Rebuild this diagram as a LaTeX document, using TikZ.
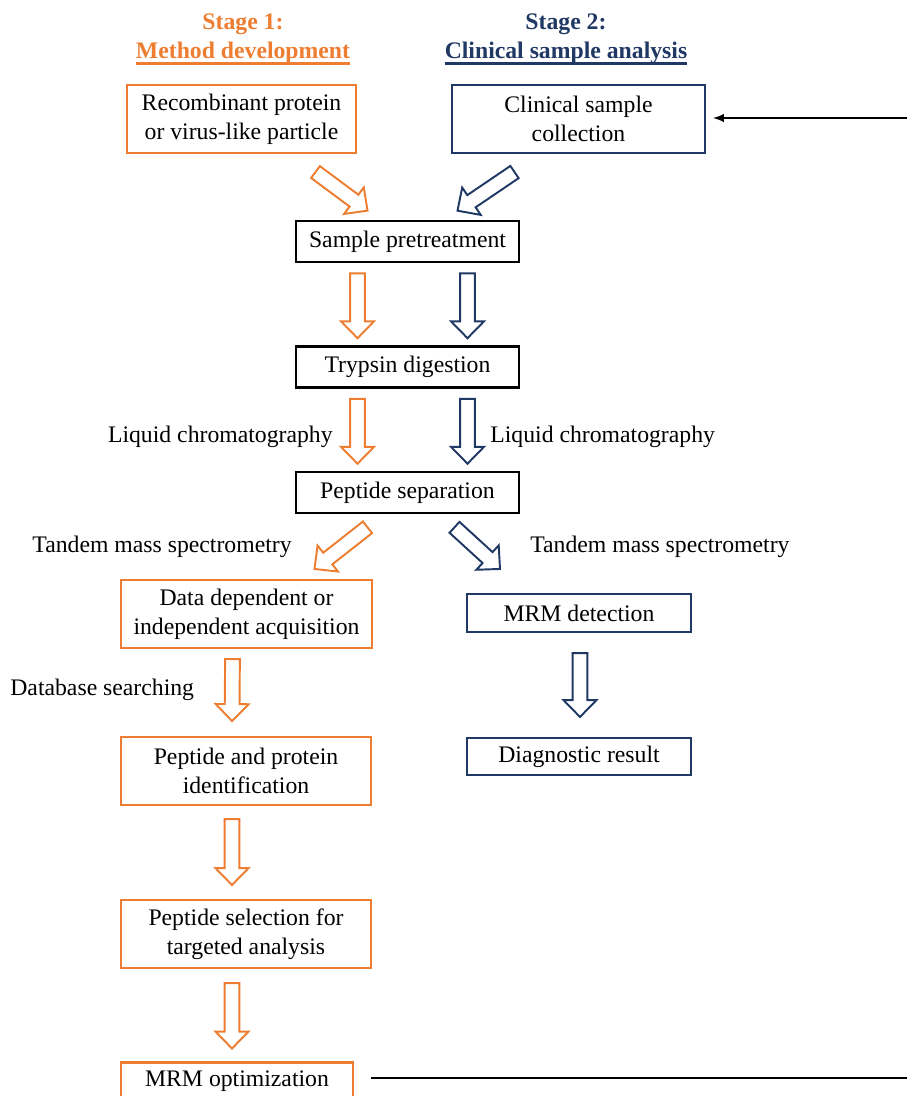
\documentclass[tikz,border=0pt]{standalone}
\usepackage{fontspec}
\setmainfont{Liberation Serif}
\usepackage{xcolor}
\usetikzlibrary{arrows,calc}

\definecolor{devorange}{HTML}{ED7D31}
\definecolor{clinblue}{HTML}{203864}

% thick underline for the stage titles
\newcommand\thickul[1]{\setbox0\hbox{#1}\rlap{\rule[-3.2pt]{\wd0}{1.2pt}}\box0}

\begin{document}
\begin{tikzpicture}[
    x=0.02cm, y=-0.02cm,
    every node/.style={font=\fontsize{13.5}{16.5}\selectfont},
    header/.style={
      align=center, inner sep=0pt,
      font=\fontsize{13.5}{17}\selectfont\bfseries
    },
    devbox/.style={
      draw=devorange, line width=1.2pt,
      minimum width=5.0cm, minimum height=1.36cm,
      align=center, inner sep=2pt
    },
    clinbox/.style={
      draw=clinblue, line width=1.2pt,
      minimum width=4.48cm, minimum height=0.76cm,
      align=center, inner sep=2pt
    },
    stepbox/.style={
      draw, line width=1.5pt,
      minimum width=4.46cm, minimum height=0.82cm,
      align=center, inner sep=2pt
    },
    note/.style={inner sep=0pt},
    fat/.style={
      draw=#1, line width=1.1pt, line join=miter,
      to path={
        ($(\tikztostart)!4.2pt!90:(\tikztotarget)$)
        -- ($(\tikztotarget)!9.6pt!(\tikztostart)!4.2pt!90:(\tikztotarget)$)
        -- ($(\tikztotarget)!9.6pt!(\tikztostart)!9.4pt!90:(\tikztotarget)$)
        -- (\tikztotarget)
        -- ($(\tikztotarget)!9.6pt!(\tikztostart)!9.4pt!-90:(\tikztotarget)$)
        -- ($(\tikztotarget)!9.6pt!(\tikztostart)!4.2pt!-90:(\tikztotarget)$)
        -- ($(\tikztostart)!4.2pt!-90:(\tikztotarget)$) -- cycle
      }
    },
    >=latex
  ]

    \useasboundingbox (0,0) rectangle (907,1096);

    % Headers
    \node[header, devorange] (stage1) at (243,39) {Stage 1:\\\thickul{Method development}};
    \node[header, clinblue]  (stage2) at (566,39) {Stage 2:\\\thickul{Clinical sample analysis}};

    % Top row
    \node[devbox, minimum width=4.58cm]  (recomb) at (241.5,119) {Recombinant protein\\or virus-like particle};
    \node[clinbox, minimum width=5.06cm, minimum height=1.36cm] (clinic) at (578.5,119) {Clinical sample\\collection};

    % Shared steps
    \node[stepbox] (pretreat) at (407.5,241.5) {Sample pretreatment};
    \node[stepbox] (trypsin)  at (407.5,367)   {Trypsin digestion};
    \node[stepbox] (sepn)     at (407.5,492.5) {Peptide separation};

    % Stage 1 column
    \node[devbox, minimum width=5.02cm] (acquis) at (246.5,614) {Data dependent or\\independent acquisition};
    \node[devbox] (ident)  at (246,771) {Peptide and protein\\identification};
    \node[devbox] (select) at (246,934) {Peptide selection for\\targeted analysis};
    \node[devbox, minimum width=4.64cm, minimum height=0.74cm] (mrmopt) at (237,1081) {MRM optimization};

    % Stage 2 column
    \node[clinbox] (mrmdet) at (579,613)   {MRM detection};
    \node[clinbox, minimum height=0.74cm] (diag) at (579,756.5) {Diagnostic result};

    % Labels
    \node[note, anchor=east] (lcdev)   at (333,437) {Liquid chromatography};
    \node[note, anchor=west] (lcclin)  at (490,437) {Liquid chromatography};
    \node[note, anchor=east] (msdev)   at (292,547) {Tandem mass spectrometry};
    \node[note, anchor=west] (msclin)  at (530,547) {Tandem mass spectrometry};
    \node[note, anchor=west] (dbsearch) at (10,690) {Database searching};

    % Hollow arrows into pretreatment
    \draw[fat=devorange] ($(recomb.south)+(74,18)$) to ($(pretreat.north)+(-40,-9)$);
    \draw[fat=clinblue]  ($(clinic.south)+(-64,18)$) to ($(pretreat.north)+(50,-9)$);

    % pretreatment -> digestion -> separation
    \draw[fat=devorange] ($(pretreat.south)+(-50,10)$) to ($(trypsin.north)+(-50,-7)$);
    \draw[fat=clinblue]  ($(pretreat.south)+(60,10)$)  to ($(trypsin.north)+(60,-7)$);
    \draw[fat=devorange] ($(trypsin.south)+(-50,10)$)  to ($(sepn.north)+(-50,-7)$);
    \draw[fat=clinblue]  ($(trypsin.south)+(60,10)$)   to ($(sepn.north)+(60,-7)$);

    % separation -> acquisition / detection
    \draw[fat=devorange] ($(sepn.south)+(-40,13)$) to ($(acquis.north)+(68,-10)$);
    \draw[fat=clinblue]  ($(sepn.south)+(47,13)$)  to ($(mrmdet.north)+(-79,-24)$);

    % Stage 1 chain
    \draw[fat=devorange] ($(acquis.south)+(-14,10)$) to ($(ident.north)+(-14,-15)$);
    \draw[fat=devorange] ($(ident.south)+(-14,13)$)  to ($(select.north)+(-14,-14)$);
    \draw[fat=devorange] ($(select.south)+(-14,14)$) to ($(mrmopt.north)+(-5,-13)$);

    % Stage 2 chain
    \draw[fat=clinblue] ($(mrmdet.south)+(1,20)$) to ($(diag.north)+(1,-20)$);

    % Feedback line
    \coordinate (backin)  at (907,118);
    \coordinate (backout) at (907,1078);
    \draw[->, line width=1.1pt] (backin) -- ($(clinic.east)+(7,-1)$);
    \draw[line width=1.3pt] ($(mrmopt.east)+(17,-3)$) -- (backout);

  \end{tikzpicture}
\end{document}
